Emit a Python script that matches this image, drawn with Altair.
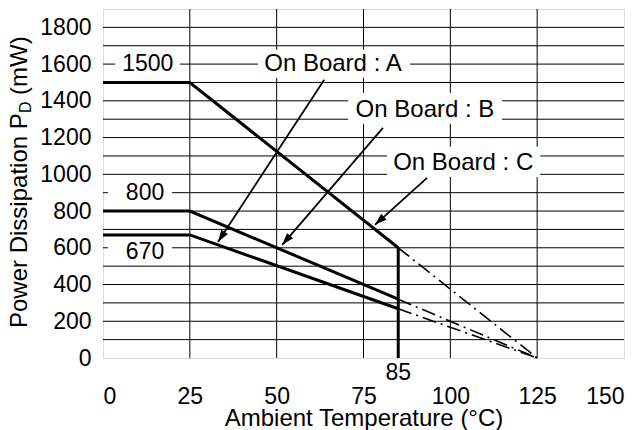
import math
import altair as alt
import pandas as pd

FONT = "Liberation Sans"
W, H = 521, 349
XMAX, YMAX = 150, 1900

# ---- data -------------------------------------------------------------
curve_x = [0, 25, 85]
board_a = [670, 670, 268]
board_b = [800, 800, 320]
board_c = [1500, 1500, 600]
ext_x = [85, 125]
ext_a = [268, 0]
ext_b = [320, 0]
ext_c = [600, 0]
limit_x = 85

x_ticks = [0, 25, 50, 75, 100, 125, 150]
y_ticks = list(range(0, 1801, 200))
grid_y = list(range(100, 1801, 100))
grid_x = [25, 50, 75, 100, 125]

val_text = ["1500", "800", "670"]
val_x = [12.9, 12.1, 12.1]
val_y = [1600, 900, 578]
val_x1 = [3.5, 1.4, 1.4]
val_x2 = [22.2, 19.9, 19.9]
val_y1 = [1537, 828, 512]
val_y2 = [1678, 970, 654]

lab_text = ["On Board : A", "On Board : B", "On Board : C"]
lab_x = [66.2, 92.7, 103.7]
lab_y = [1600, 1351, 1063]
lab_x1 = [44.6, 70.6, 81.8]
lab_x2 = [88.4, 114.9, 125.9]
lab_y1 = [1526, 1275, 986]
lab_y2 = [1678, 1444, 1150]
arr_sx = [63.7, 80.6, 93.3]
arr_sy = [1515, 1253, 981]
arr_tx = [33.1, 51.6, 78.3]
arr_ty = [632, 616, 725]

# ---- scales / axes -----------------------------------------------------
xs = alt.Scale(domain=[0, XMAX], nice=False, zero=False)
ys = alt.Scale(domain=[0, YMAX], nice=False, zero=False)
x_axis = alt.Axis(
    values=x_ticks, format="d", grid=False, domain=False, ticks=False, tickSize=0,
    labelPadding=27, labelFont=FONT, labelFontSize=23, labelColor="black",
    titleFont=FONT, titleFontSize=24, titleFontWeight="normal",
    titleColor="black", titleY=67, titleBaseline="alphabetic")
y_axis = alt.Axis(
    values=y_ticks, format="d", grid=False, domain=False, ticks=False, tickSize=0,
    labelPadding=12, labelFont=FONT, labelFontSize=23, labelColor="black")
X_TITLE = "Ambient Temperature (°C)"


def X(field):
    return alt.X(field, type="quantitative", scale=xs, axis=x_axis, title=X_TITLE)


def Y(field):
    return alt.Y(field, type="quantitative", scale=ys, axis=y_axis, title=None)


# ---- frames ------------------------------------------------------------
curves = pd.DataFrame({
    "t": curve_x * 3,
    "p": board_a + board_b + board_c,
    "s": ["A"] * 3 + ["B"] * 3 + ["C"] * 3,
})
ext = pd.DataFrame({
    "t": ext_x * 3,
    "p": ext_a + ext_b + ext_c,
    "s": ["A"] * 2 + ["B"] * 2 + ["C"] * 2,
})
vline = pd.DataFrame({"t": [limit_x, limit_x], "p": [board_c[-1], 0]})

vals = pd.DataFrame({"txt": val_text, "x": val_x, "y": val_y,
                     "x1": val_x1, "x2": val_x2, "y1": val_y1, "y2": val_y2})
labs = pd.DataFrame({"txt": lab_text, "x": lab_x, "y": lab_y,
                     "x1": lab_x1, "x2": lab_x2, "y1": lab_y1, "y2": lab_y2})

angles = []
for sx, sy, tx, ty in zip(arr_sx, arr_sy, arr_tx, arr_ty):
    dx = (tx - sx) * W / XMAX
    dy = -(ty - sy) * H / YMAX
    angles.append(math.degrees(math.atan2(dx, -dy)) % 360)
arrows = pd.DataFrame({"sx": arr_sx, "sy": arr_sy, "tx": arr_tx, "ty": arr_ty,
                       "ang": angles})

# ---- layers ------------------------------------------------------------
hgrid = alt.Chart(pd.DataFrame({"gy": grid_y})).mark_rule(
    color="black", strokeWidth=1
).encode(y=Y("gy"))
vgrid = alt.Chart(pd.DataFrame({"gx": grid_x})).mark_rule(
    color="black", strokeWidth=1
).encode(x=X("gx"))

val_boxes = alt.Chart(vals).mark_rect(color="white").encode(
    x=X("x1"), x2="x2:Q", y=Y("y1"), y2="y2:Q",
)
lab_boxes = alt.Chart(labs).mark_rect(color="white").encode(
    x=X("x1"), x2="x2:Q", y=Y("y1"), y2="y2:Q",
)

solid = alt.Chart(curves).mark_line(color="black", strokeWidth=3).encode(
    x=X("t"), y=Y("p"), detail="s:N",
)
dashed = alt.Chart(ext).mark_line(
    color="black", strokeWidth=1.6, strokeDash=[14, 5, 2, 5]
).encode(x=X("t"), y=Y("p"), detail="s:N")
limit = alt.Chart(vline).mark_line(color="black", strokeWidth=3).encode(
    x=X("t"), y=Y("p"),
)

shafts = alt.Chart(arrows).mark_rule(color="black", strokeWidth=1.8).encode(
    x=X("sx"), x2="tx:Q", y=Y("sy"), y2="ty:Q",
)
heads = alt.Chart(arrows).mark_point(
    shape="M0,0L-0.33,1L0.33,1Z", filled=True, color="black", size=576, opacity=1
).encode(
    x=X("tx"), y=Y("ty"),
    angle=alt.Angle("ang:Q", scale=None),
)

val_texts = alt.Chart(vals).mark_text(
    font=FONT, fontSize=23, color="black", baseline="middle", align="center"
).encode(x=X("x"), y=Y("y"), text="txt:N")
lab_texts = alt.Chart(labs).mark_text(
    font=FONT, fontSize=24, color="black", baseline="middle", align="center"
).encode(x=X("x"), y=Y("y"), text="txt:N")
limit_label = alt.Chart(pd.DataFrame({"x": [limit_x], "y": [-82],
                                      "txt": [str(limit_x)]})).mark_text(
    font=FONT, fontSize=23, color="black", baseline="middle", align="center"
).encode(x=X("x"), y=Y("y"), text="txt:N")

# y-axis title with subscript D
yt1 = alt.Chart(pd.DataFrame({"txt": ["Power Dissipation P"]})).mark_text(
    font=FONT, fontSize=24, color="black", angle=270, align="left",
    baseline="alphabetic"
).encode(x=alt.value(-76), y=alt.value(319), text="txt:N")
yt2 = alt.Chart(pd.DataFrame({"txt": ["D"]})).mark_text(
    font=FONT, fontSize=16, color="black", angle=270, align="left",
    baseline="alphabetic"
).encode(x=alt.value(-72), y=alt.value(104), text="txt:N")
yt3 = alt.Chart(pd.DataFrame({"txt": ["(mW)"]})).mark_text(
    font=FONT, fontSize=24, color="black", angle=270, align="left",
    baseline="alphabetic"
).encode(x=alt.value(-76), y=alt.value(86), text="txt:N")

chart = alt.layer(
    hgrid, vgrid, val_boxes, lab_boxes, solid, dashed, limit,
    shafts, heads, val_texts, lab_texts, limit_label, yt1, yt2, yt3
).properties(
    width=W, height=H,
    autosize=alt.AutoSizeParams(type="none"),
    padding={"left": 95, "top": 1, "right": 12, "bottom": 72},
).configure_view(
    stroke="black", strokeWidth=1.5
).configure(background="white")

chart.save("out.html", embed_options={"renderer": "svg", "actions": False})
